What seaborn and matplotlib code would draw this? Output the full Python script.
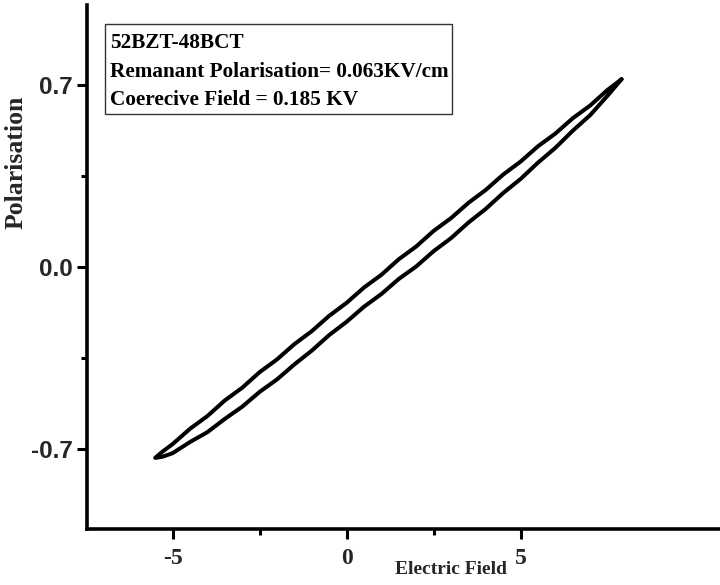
import matplotlib
matplotlib.use("Agg")
import matplotlib.pyplot as plt
import seaborn as sns
import pandas as pd
from matplotlib.patches import Rectangle

# Descending branch (from +Emax back to -Emax)
field_down = [7.9, 7.5, 7.0, 6.5, 6.0, 5.5, 5.0, 4.5, 4.0, 3.5, 3.0, 2.5, 2.0, 1.5,
              1.0, 0.5, 0.0, -0.5, -1.0, -1.5, -2.0, -2.5, -3.0, -3.5, -4.0, -4.5,
              -5.0, -5.3, -5.5]
pol_down = [0.723, 0.682, 0.622, 0.573, 0.514, 0.465, 0.406, 0.356, 0.297, 0.247,
            0.188, 0.139, 0.079, 0.030, -0.030, -0.079, -0.138, -0.188, -0.247,
            -0.297, -0.356, -0.405, -0.465, -0.514, -0.574, -0.623, -0.682, -0.712,
            -0.735]

# Ascending branch (from -Emax up to +Emax)
field_up = [-5.5, -5.3, -5.0, -4.5, -4.0, -3.5, -3.0, -2.5, -2.0, -1.5, -1.0, -0.5,
            0.0, 0.5, 1.0, 1.5, 2.0, 2.5, 3.0, 3.5, 4.0, 4.5, 5.0, 5.5, 6.0, 6.5,
            7.0, 7.5, 7.9]
pol_up = [-0.735, -0.731, -0.717, -0.674, -0.636, -0.585, -0.538, -0.481, -0.433,
          -0.375, -0.322, -0.262, -0.211, -0.153, -0.104, -0.046, 0.002, 0.061,
          0.111, 0.171, 0.224, 0.285, 0.339, 0.402, 0.459, 0.525, 0.585, 0.660,
          0.723]

x_ticks = [-5, 0, 5]
x_tick_labels = ["-5", "0", "5"]
y_ticks = [-0.7, 0.0, 0.7]
y_tick_labels = ["-0.7", "0.0", "0.7"]

info_lines = ["52BZT-48BCT",
              "Remanant Polarisation= 0.063KV/cm",
              "Coerecive Field = 0.185 KV"]

loop = pd.DataFrame({
    "E": field_down + field_up,
    "P": pol_down + pol_up,
})

sns.set_theme(style="ticks")
plt.rcParams["font.family"] = ["Liberation Serif", "DejaVu Serif"]

fig = plt.figure(figsize=(7.2, 5.85), dpi=100)
W, H = 720, 585
ax_left, ax_right, ax_top, ax_bottom = 87, 720, 5, 529
ax = fig.add_axes([ax_left / W, 1 - ax_bottom / H,
                   (ax_right - ax_left) / W, (ax_bottom - ax_top) / H])

sns.lineplot(data=loop, x="E", y="P", sort=False, estimator=None, ax=ax,
             color="black", linewidth=2.9,
             solid_capstyle="round", solid_joinstyle="round")

ax.set_xlim(-7.46, 10.73)
ax.set_ylim(-1.009, 1.009)

for side in ("top", "right"):
    ax.spines[side].set_visible(False)
for side in ("left", "bottom"):
    ax.spines[side].set_linewidth(2.6)
    ax.spines[side].set_color("black")

ax.set_xticks(x_ticks)
ax.set_xticklabels(x_tick_labels, fontfamily="Liberation Serif",
                   fontweight="bold", fontsize=17)
ax.set_xticks([-2.5, 2.5], minor=True)
ax.set_yticks(y_ticks)
ax.set_yticklabels(y_tick_labels, fontfamily="Liberation Sans",
                   fontweight="bold", fontsize=17.5)
ax.set_yticks([-0.35, 0.35], minor=True)

ax.tick_params(axis="both", which="major", direction="out", length=7,
               width=2.2, color="black")
ax.tick_params(axis="both", which="minor", direction="out", length=4,
               width=2.2, color="black")
ax.tick_params(axis="x", which="major", pad=7)
ax.tick_params(axis="y", which="major", pad=3)

ax.set_xlabel("")
ax.set_ylabel("")
fig.text(451 / W, 1 - 569 / H, "Electric Field", ha="center", va="center",
         fontweight="bold", fontsize=14)
fig.text(16 / W, 1 - 162 / H, "Polarisation", ha="center", va="center",
         rotation=90, fontweight="bold", fontsize=18.5)


def to_axes(px, py):
    return ((px - ax_left) / (ax_right - ax_left),
            (ax_bottom - py) / (ax_bottom - ax_top))


# Annotation box with the sample and loop parameters
bx0, by0 = to_axes(105, 114)
bx1, by1 = to_axes(452, 24)
ax.add_patch(Rectangle((bx0, by0), bx1 - bx0, by1 - by0, transform=ax.transAxes,
                       fill=True, facecolor="white", edgecolor="#333333",
                       linewidth=1.0, zorder=5))
for line, base in zip(info_lines, [48, 77, 105]):
    tx, ty = to_axes(110, base)
    ax.text(tx, ty, line, transform=ax.transAxes, ha="left", va="baseline",
            fontweight="bold", fontsize=15.3, color="black", zorder=6)

fig.savefig("out.png", dpi=100, facecolor="white")
